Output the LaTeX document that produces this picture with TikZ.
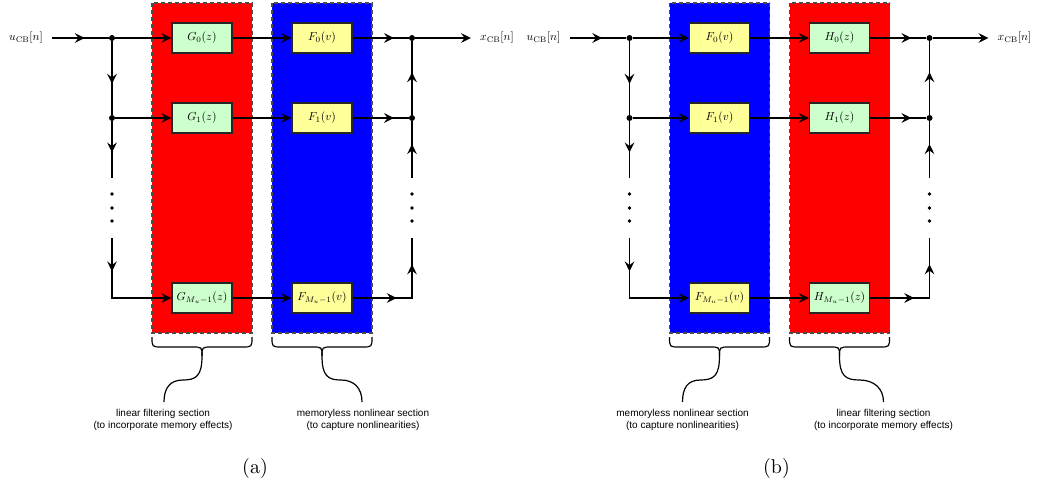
\documentclass[tikz,border=0pt]{standalone}
\usepackage{fontspec}
\usepackage{graphicx}
\usetikzlibrary{arrows.meta,decorations.markings}
\newfontfamily\secfont{Liberation Sans}
\newcommand\mt[1]{\scalebox{0.58}{$#1$}}
\definecolor{gfill}{HTML}{CCFFCC}
\definecolor{ffill}{HTML}{FFFF99}
\tikzset{
  myarrow/.tip={Stealth[length=5pt,width=4.8pt,inset=1.8pt]},
  ln/.style={line width=0.8pt},
  tipend/.style={-{myarrow}},
  marr/.style={postaction={decorate},decoration={markings,mark=at position #1 with {\arrow{myarrow}}}},
  marrtwo/.style 2 args={postaction={decorate},decoration={markings,mark=at position #1 with {\arrow{myarrow}},mark=at position #2 with {\arrow{myarrow}}}},
  blk/.style={draw=black!85, line width=0.6pt, minimum width=30pt, minimum height=15pt, inner sep=1pt},
  gbox/.style={blk, fill=gfill},
  fbox/.style={blk, fill=ffill},
  redsec/.style={fill=red, draw=black!70, line width=0.6pt, dash pattern=on 2pt off 1.5pt},
  bluesec/.style={fill=blue, draw=black!70, line width=0.6pt, dash pattern=on 2pt off 1.5pt},
  jdot/.style={circle, fill, inner sep=0pt, minimum size=3pt},
  edot/.style={circle, fill, inner sep=0pt, minimum size=1.8pt},
  sig/.style={inner sep=0pt},
  brc/.style={line width=0.6pt},
  sectxt/.style={font=\secfont\fontsize{5}{6}\selectfont, align=center, inner sep=0pt},
  captxt/.style={font=\fontsize{10}{12}\selectfont, inner sep=0pt}
}
\begin{document}
\begin{tikzpicture}[x=0.5pt,y=-0.5pt]
\useasboundingbox (0,0) rectangle (1037,487);

% ================= panel (a) =================
\begin{scope}
\draw[redsec] (152,3) rectangle (252,333);
\draw[bluesec] (272,3) rectangle (372,333);

\node[gbox] (aG0) at (202,38) {\mt{G_0(z)}};
\node[gbox] (aG1) at (202,118) {\mt{G_1(z)}};
\node[gbox] (aG2) at (202,298) {\mt{G_{M_u-1}(z)}};
\node[fbox] (aF0) at (322,38) {\mt{F_0(v)}};
\node[fbox] (aF1) at (322,118) {\mt{F_1(v)}};
\node[fbox] (aF2) at (322,298) {\mt{F_{M_u-1}(v)}};

\node[sig] (ain) at (26,38) {\mt{u_{\mathrm{CB}}[n]}};
\node[sig] (aout) at (497,38) {\mt{x_{\mathrm{CB}}[n]}};
\coordinate (aS) at (52,38);
\coordinate (aT) at (471,38);
\node[jdot] (aJ0) at (112,38) {};
\node[jdot] (aJ1) at (112,118) {};
\coordinate (aJ2) at (112,298);
\coordinate (aD1) at (112,178);
\coordinate (aD2) at (112,238);
\node[jdot] (aK0) at (412,38) {};
\node[jdot] (aK1) at (412,118) {};
\coordinate (aK2) at (412,298);
\coordinate (aE1) at (412,178);
\coordinate (aE2) at (412,238);
\node[edot] (aa1) at (112,194) {};
\node[edot] (aa2) at (112,208) {};
\node[edot] (aa3) at (112,221) {};
\node[edot] (ab1) at (412,194) {};
\node[edot] (ab2) at (412,208) {};
\node[edot] (ab3) at (412,221) {};

\draw[ln,marr=0.58] (aS) -- (aJ0);
\draw[ln,tipend] (aJ0) -- (aG0);
\draw[ln,tipend] (aJ1) -- (aG1);
\draw[ln,tipend] (aG0) -- (aF0);
\draw[ln,tipend] (aG1) -- (aF1);
\draw[ln,tipend] (aG2) -- (aF2);
\draw[ln,marr=0.74] (aF0) -- (aK0);
\draw[ln,marr=0.74] (aF1) -- (aK1);
\draw[ln,tipend] (aK0) -- (aT);
\draw[ln,marr=0.58] (aJ0) -- (aJ1);
\draw[ln,marr=0.55] (aJ1) -- (aD1);
\draw[ln,tipend,marr=0.28] (aD2) -- (aJ2) -- (aG2);
\draw[ln,marrtwo={0.37}{0.78}] (aF2) -- (aK2) -- (aE2);
\draw[ln,marr=0.6] (aE1) -- (aK1);
\draw[ln,marr=0.58] (aK1) -- (aK0);

% braces
\draw[brc] (152,337) .. controls (152,347) .. (162,347) -- (192,347) .. controls (202,347) .. (202,356)
  .. controls (202,376) and (196,380) .. (183,380) .. controls (170,380) and (164,388) .. (164,402);
\draw[brc] (252,337) .. controls (252,347) .. (242,347) -- (212,347) .. controls (202,347) .. (202,356);
\draw[brc] (272,337) .. controls (272,347) .. (282,347) -- (312,347) .. controls (322,347) .. (322,356);
\draw[brc] (372,337) .. controls (372,347) .. (362,347) -- (332,347) .. controls (322,347) .. (322,356)
  .. controls (322,376) and (328,380) .. (341,380) .. controls (354,380) and (362,388) .. (362,402);
\node[sectxt] (aL1) at (163,420) {linear filtering section\\(to incorporate memory effects)};
\node[sectxt] (aL2) at (363,420) {memoryless nonlinear section\\(to capture nonlinearities)};
\node[captxt] (acap) at (255,468) {(a)};
\end{scope}

% ================= panel (b) =================
\begin{scope}[xshift=258.75pt]
\draw[bluesec] (152,3) rectangle (252,333);
\draw[redsec] (272,3) rectangle (372,333);

\node[fbox] (bF0) at (202,38) {\mt{F_0(v)}};
\node[fbox] (bF1) at (202,118) {\mt{F_1(v)}};
\node[fbox] (bF2) at (202,298) {\mt{F_{M_u-1}(v)}};
\node[gbox] (bH0) at (322,38) {\mt{H_0(z)}};
\node[gbox] (bH1) at (322,118) {\mt{H_1(z)}};
\node[gbox] (bH2) at (322,298) {\mt{H_{M_u-1}(z)}};

\node[sig] (bin) at (26,38) {\mt{u_{\mathrm{CB}}[n]}};
\node[sig] (bout) at (497,38) {\mt{x_{\mathrm{CB}}[n]}};
\coordinate (bS) at (52,38);
\coordinate (bT) at (471,38);
\node[jdot] (bJ0) at (112,38) {};
\node[jdot] (bJ1) at (112,118) {};
\coordinate (bJ2) at (112,298);
\coordinate (bD1) at (112,178);
\coordinate (bD2) at (112,238);
\node[jdot] (bK0) at (412,38) {};
\node[jdot] (bK1) at (412,118) {};
\coordinate (bK2) at (412,298);
\coordinate (bE1) at (412,178);
\coordinate (bE2) at (412,238);
\node[edot] (ba1) at (112,194) {};
\node[edot] (ba2) at (112,208) {};
\node[edot] (ba3) at (112,221) {};
\node[edot] (bb1) at (412,194) {};
\node[edot] (bb2) at (412,208) {};
\node[edot] (bb3) at (412,221) {};

\draw[ln,marr=0.58] (bS) -- (bJ0);
\draw[ln,tipend] (bJ0) -- (bF0);
\draw[ln,tipend] (bJ1) -- (bF1);
\draw[ln,tipend] (bF0) -- (bH0);
\draw[ln,tipend] (bF1) -- (bH1);
\draw[ln,tipend] (bF2) -- (bH2);
\draw[ln,marr=0.74] (bH0) -- (bK0);
\draw[ln,marr=0.74] (bH1) -- (bK1);
\draw[ln,tipend] (bK0) -- (bT);
\draw[ln,marr=0.58] (bJ0) -- (bJ1);
\draw[ln,marr=0.55] (bJ1) -- (bD1);
\draw[ln,tipend,marr=0.28] (bD2) -- (bJ2) -- (bF2);
\draw[ln,marrtwo={0.37}{0.78}] (bH2) -- (bK2) -- (bE2);
\draw[ln,marr=0.6] (bE1) -- (bK1);
\draw[ln,marr=0.58] (bK1) -- (bK0);

\draw[brc] (152,337) .. controls (152,347) .. (162,347) -- (192,347) .. controls (202,347) .. (202,356)
  .. controls (202,376) and (196,380) .. (183,380) .. controls (170,380) and (165,388) .. (165,402);
\draw[brc] (252,337) .. controls (252,347) .. (242,347) -- (212,347) .. controls (202,347) .. (202,356);
\draw[brc] (272,337) .. controls (272,347) .. (282,347) -- (312,347) .. controls (322,347) .. (322,356);
\draw[brc] (372,337) .. controls (372,347) .. (362,347) -- (332,347) .. controls (322,347) .. (322,356)
  .. controls (322,376) and (328,380) .. (342,380) .. controls (356,380) and (366,388) .. (366,402);
\node[sectxt] (bL1) at (165,420) {memoryless nonlinear section\\(to capture nonlinearities)};
\node[sectxt] (bL2) at (366,420) {linear filtering section\\(to incorporate memory effects)};
\node[captxt] (bcap) at (259,468) {(b)};
\end{scope}
\end{tikzpicture}
\end{document}
